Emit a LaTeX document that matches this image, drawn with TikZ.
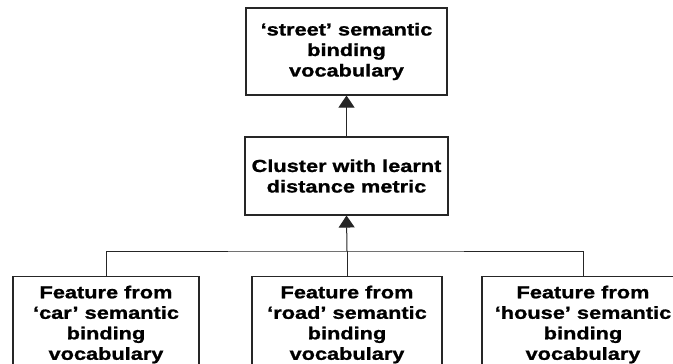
\documentclass[tikz,border=0pt]{standalone}
\usepackage{fontspec}
\setmainfont[FakeStretch=1.25, BoldFeatures={FakeBold=1.2}]{Liberation Sans}
\usetikzlibrary{arrows.meta}

\begin{document}
\begin{tikzpicture}[x=1pt,y=-1pt,
  box/.style={draw=black!85, line width=1.1pt, align=center,
    font=\fontsize{17.4}{20.5}\selectfont\bfseries, inner sep=0pt},
  link/.style={draw=black!85, line width=1pt},
  uparrow/.style={link, -{Triangle[length=12pt,width=16pt]}}]
  \useasboundingbox (0,0) rectangle (673,364);
  \clip (0,0) rectangle (673,364);

  % upper two stages
  \node[box, minimum width=201pt, minimum height=87pt] (street) at (346.5,51.5)
    {`street' semantic\\binding\\vocabulary};
  \node[box, minimum width=203pt, minimum height=78pt] (cluster) at (346.5,176)
    {Cluster with learnt\\distance metric};

  % feature sources (run past the lower edge)
  \node[box, minimum width=186pt, minimum height=96pt, anchor=north] (car) at (106,276)
    {Feature from\\`car' semantic\\binding\\vocabulary};
  \node[box, minimum width=190pt, minimum height=96pt, anchor=north] (road) at (347,276)
    {Feature from\\`road' semantic\\binding\\vocabulary};
  \node[box, minimum width=202pt, minimum height=96pt, anchor=north] (house) at (583,276)
    {Feature from\\`house' semantic\\binding\\vocabulary};

  % merge bar joining the three sources
  \coordinate (join) at (347,251);
  \draw[link] (car.north) |- (join) -| (house.north);
  \draw[link] (road.north) -- (join);

  \draw[uparrow] (join) -- (cluster.south);
  \draw[uparrow] (cluster.north) -- (street.south);
\end{tikzpicture}
\end{document}
